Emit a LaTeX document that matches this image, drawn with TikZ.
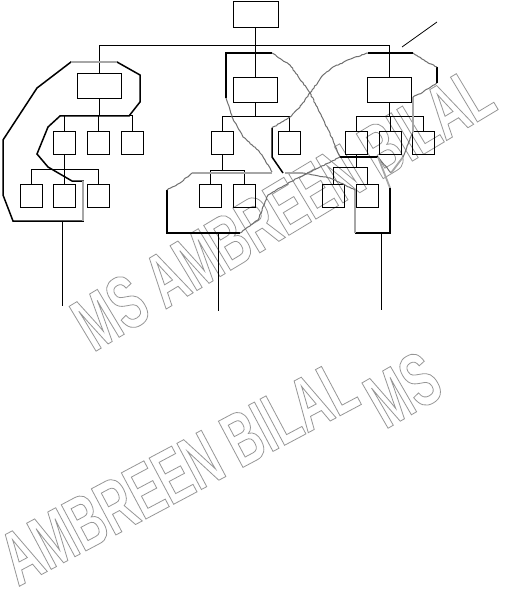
\documentclass[tikz,border=0pt]{standalone}
\usepackage{fontspec}
\usetikzlibrary{decorations.pathmorphing}
\newfontfamily\wmfont[FakeStretch=0.62]{Liberation Sans}
\definecolor{wm}{RGB}{150,150,150}
\definecolor{rim}{RGB}{110,110,110}
\newcommand\hollowtext[1]{\special{pdf:literal direct 1 Tr 0.8 w}#1\special{pdf:literal direct 0 Tr}}

\begin{document}
\begin{tikzpicture}[x=1pt,y=-1pt,line width=.8pt,
  box/.style={draw,minimum width=22pt,minimum height=23pt,inner sep=0pt},
  big/.style={box,minimum width=44pt,minimum height=25pt},
  thk/.style={line width=1.5pt},
  gthk/.style={draw=gray!70,line width=1.8pt},
  wob/.style={draw=rim,line width=1pt,decorate,decoration={random steps,segment length=2pt,amplitude=.45pt}},
  wmark/.style={anchor=base west,inner sep=0pt,text=wm,font=\wmfont\bfseries\fontsize{76}{76}\selectfont}]
\useasboundingbox (0,0) rectangle (508,591);
\pgfmathsetseed{3}
% watermark
\node[wmark,rotate=31] (wa) at (93,353) {\hollowtext{MS AMBREEN BILAL}};
\node[wmark,rotate=28] (wb) at (18,587) {\hollowtext{AMBREEN BILAL}};
\node[wmark,rotate=30] (wc) at (385,430) {\hollowtext{MS}};
% modules
\node[box,minimum width=45pt,minimum height=26pt] (top) at (255.5,14) {};
\node[big] (lft) at (99,86) {};
\node[big] (mid) at (255.5,90) {};
\node[big] (rgt) at (389.5,90) {};
\foreach \n/\x in {l1/64.5,l2/98.5,l3/132,m1/222,m2/289,r1/356,r2/390,r3/423.5}
  \node[box] (\n) at (\x,142.5) {};
\foreach \n/\x in {l11/31,l12/64.5,l13/98.5,m11/210,m12/244,r11/333.5,r12/367.5}
  \node[box] (\n) at (\x,195.5) {};
\draw (top) -- (mid);
\draw (lft.north) -- ++(0,-28) -| (rgt.north);
\foreach \c in {l1,l2,l3} \draw (lft.south) -- ++(0,17) -| (\c.north);
\foreach \c in {l11,l12,l13} \draw (l1.south) -- ++(0,15) -| (\c.north);
\foreach \c in {m1,m2} \draw (mid.south) -- ++(0,13.5) -| (\c.north);
\foreach \c in {m11,m12} \draw (m1.south) -- ++(0,16) -| (\c.north);
\foreach \c in {r1,r2,r3} \draw (rgt.south) -- ++(0,13.5) -| (\c.north);
\foreach \c in {r11,r12} \draw (r1.south) -- ++(0,13) -| (\c.north);
% groups
\draw[thk] (71,62) -- (117,62) -- (140,75) -- (140,102) -- (129,116) -- (60,116) -- (48,127) -- (37,154) -- (48,167) -- (72,181) -- (83,181) -- (83,221) -- (13,221) -- (3,195) -- (3,140) -- (37,88) -- cycle;
\draw[gthk] (71,62) -- (117,62) (83,181) -- (83,221);
\draw[thk] (226,98) -- (226,53) -- (272,53);
\draw[wob] (272,53) -- (290,65) -- (310,93) -- (300,107) -- (290,117) -- (272,128);
\draw[thk] (272,128) -- (272,157) -- (283,173);
\draw[wob] (226,98) -- (232,117) -- (243,137) -- (258,150) -- (265,160) -- (272,172);
\draw[wob] (368,53) -- (353,58) -- (333,67) -- (323,75) -- (310,93) -- (320,113) -- (333,140) -- (340,157);
\draw[thk] (340,157) -- (378,157);
\draw[wob] (378,157) -- (391,173);
\draw[gthk] (391,173) -- (403,157);
\draw[wob] (403,157) -- (413,132);
\draw[gthk] (413,132) -- (413,97);
\draw[wob] (413,97) -- (423,92) -- (437,83);
\draw[thk] (437,83) -- (437,67);
\draw[wob] (437,67) -- (427,62) -- (413,53);
\draw[thk] (413,53) -- (368,53);
\draw[thk] (167,190) -- (167,233) -- (240,233);
\draw[wob] (240,233) -- (258,220) -- (268,195) -- (290,182) -- (340,157);
\draw[wob] (167,190) -- (180,183) -- (192,173);
\draw[gthk] (192,173) -- (272,173) (285,173) -- (303,173);
\draw[gthk] (378,157) -- (390,188);
\draw[thk] (390,188) -- (390,233) -- (355,233);
\draw[gthk] (355,233) -- (355,190);
\draw[wob] (355,190) -- (330,178) -- (303,173);
% pointers
\coordinate (ga) at (62,221);  \coordinate (pa) at (62,306);
\coordinate (gb) at (218,233); \coordinate (pb) at (218,311);
\coordinate (gc) at (381,233); \coordinate (pc) at (381,310);
\coordinate (gd) at (402,47);  \coordinate (pd) at (437,22);
\draw (ga) -- (pa);
\draw (gb) -- (pb);
\draw (gc) -- (pc);
\draw (gd) -- (pd);
\end{tikzpicture}
\end{document}
